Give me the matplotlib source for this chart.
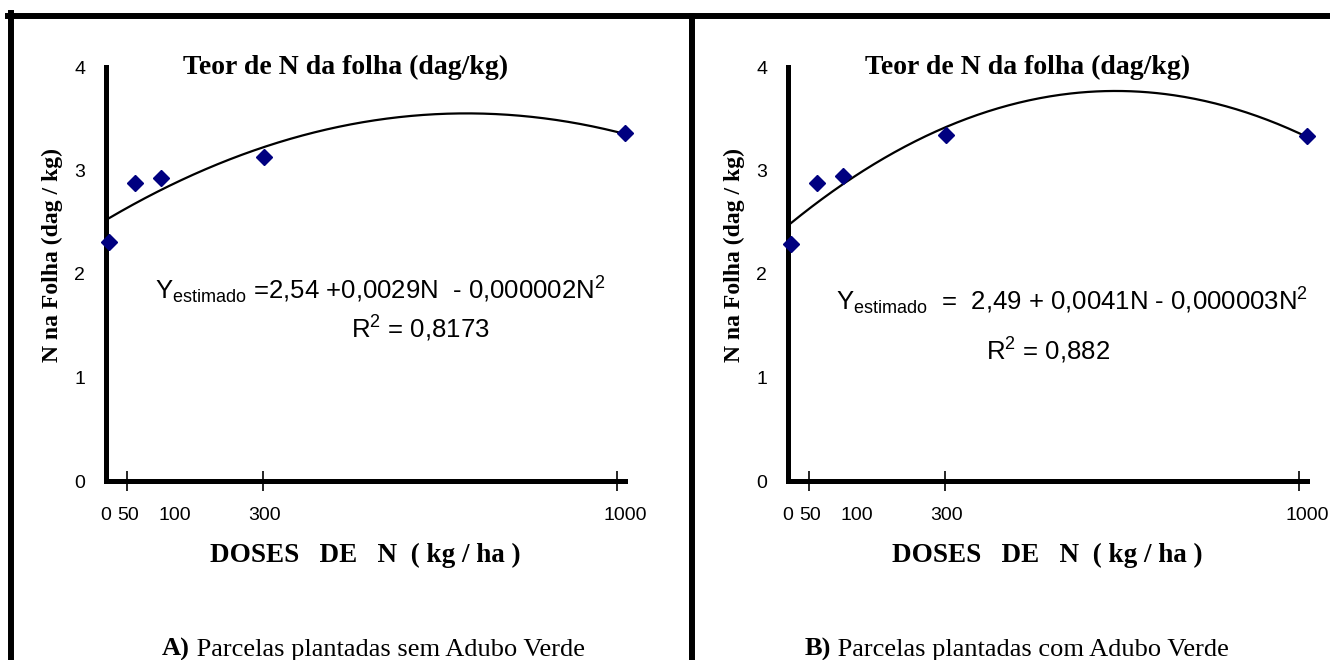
import numpy as np
import matplotlib
matplotlib.use("Agg")
import matplotlib.pyplot as plt
from matplotlib.lines import Line2D

plt.rcParams['font.family'] = ['Liberation Sans', 'DejaVu Sans']
plt.rcParams['mathtext.fontset'] = 'custom'
plt.rcParams['mathtext.rm'] = 'Liberation Sans'
plt.rcParams['mathtext.it'] = 'Liberation Sans'

# doses de N (kg/ha) e teor de N na folha (dag/kg)
doses = [0, 50, 100, 300, 1000]
teor_sem = [2.31, 2.88, 2.93, 3.13, 3.36]   # A) sem adubo verde
teor_com = [2.29, 2.88, 2.95, 3.34, 3.33]   # B) com adubo verde

# rotulos do eixo x (posicoes como no grafico original) e marcas
xtick_labels = ["0", "50", "100", "300", "1000"]
xtick_label_pos = [-6, 37, 127, 301, 1000]
xtick_mark_pos = [35, 127, 298, 985]
yticks = [0, 1, 2, 3, 4]

eq_sem = r"Y$_{\mathrm{estimado}}$ =2,54 +0,0029N  - 0,000002N$^{\mathrm{2}}$"
r2_sem = r"R$^{\mathrm{2}}$ = 0,8173"
eq_com = r"Y$_{\mathrm{estimado}}$  =  2,49 + 0,0041N - 0,000003N$^{\mathrm{2}}$"
r2_com = r"R$^{\mathrm{2}}$ = 0,882"

W, H = 1330, 660
fig = plt.figure(figsize=(W / 100, H / 100), dpi=100)

serif = 'Liberation Serif'


def fx(px):
    return px / W


def fy(py):
    return 1 - py / H


def panel(x0, teor, eq, r2, eq_xy, r2_xy, eq_size, caption_letter, caption_rest, cap_x):
    ax = fig.add_axes([fx(x0), fy(481), fx(519), 414 / H])
    ax.set_xlim(0, 1000)
    ax.set_ylim(0, 4)

    # linha de tendencia polinomial de 2a ordem
    coef = np.polyfit(doses, teor, 2)
    xs = np.linspace(0, 1000, 300)
    ax.plot(xs, np.polyval(coef, xs), color='black', lw=1.6, clip_on=False, zorder=2)
    ax.plot(doses, teor, 'D', color='#000080', ms=8, clip_on=False, zorder=3)

    for s in ['top', 'right']:
        ax.spines[s].set_visible(False)
    for s in ['left', 'bottom']:
        ax.spines[s].set_linewidth(3.6)
        ax.spines[s].set_capstyle('projecting')

    ax.set_yticks(yticks)
    ax.set_yticklabels([str(v) for v in yticks])
    ax.tick_params(axis='y', length=0, pad=15, labelsize=14)
    ax.set_xticks(xtick_label_pos)
    ax.set_xticklabels(xtick_labels)
    ax.tick_params(axis='x', which='major', length=0, pad=19, labelsize=14)
    ax.set_xticks(xtick_mark_pos, minor=True)
    ax.tick_params(axis='x', which='minor', direction='inout', length=14, width=1.2)

    fig.text(fx(x0 + 240), fy(67), "Teor de N da folha (dag/kg)", family=serif,
             fontweight='bold', fontsize=20, ha='center', va='center')
    fig.text(fx(x0 - 54), fy(255), "N na Folha (dag / kg)", family=serif,
             fontweight='bold', fontsize=17, rotation=90, ha='center', va='center')
    fig.text(fx(x0 + 259), fy(562), "DOSES   DE   N  ( kg / ha )", family=serif,
             fontweight='bold', fontsize=19.5, ha='center', va='baseline')
    fig.text(fx(eq_xy[0]), fy(eq_xy[1]), eq, fontsize=eq_size, ha='center', va='baseline')
    fig.text(fx(r2_xy[0]), fy(r2_xy[1]), r2, fontsize=eq_size, ha='center', va='baseline')

    fig.text(fx(cap_x), fy(656), caption_letter, family=serif, fontweight='bold',
             fontsize=19, ha='right', va='baseline')
    fig.text(fx(cap_x), fy(656), caption_rest, family=serif,
             fontsize=19, ha='left', va='baseline')
    return ax


panel(106, teor_sem, eq_sem, r2_sem, (380, 299), (420, 338), 18.5,
      "A)", " Parcelas plantadas sem Adubo Verde", 190)
panel(788, teor_com, eq_com, r2_com, (1072, 310), (1048, 360), 18.5,
      "B)", " Parcelas plantadas com Adubo Verde", 831)

# molduras
lw = 4.3
fig.add_artist(Line2D([fx(8), 1], [fy(16), fy(16)], color='black', lw=lw))
fig.add_artist(Line2D([fx(11), fx(11)], [fy(13), 0], color='black', lw=lw))
fig.add_artist(Line2D([fx(692), fx(692)], [fy(16), 0], color='black', lw=lw))

fig.savefig("out.png", dpi=100)
